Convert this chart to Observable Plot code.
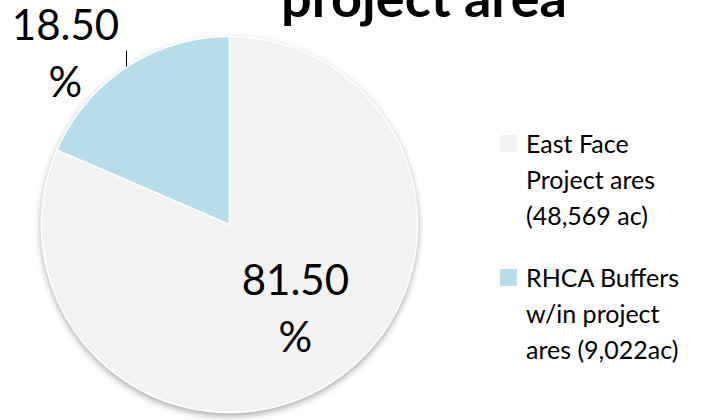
<!DOCTYPE html>
<html>
<head>
<meta charset="utf-8">
<script src="https://cdn.jsdelivr.net/npm/d3@7"></script>
<script src="https://cdn.jsdelivr.net/npm/@observablehq/plot@0.6"></script>
<style>
  html, body { margin: 0; padding: 0; background: #fff; overflow: hidden; }
  #wrap { position: relative; width: 712px; height: 420px; overflow: hidden; font-family: Lato, "Open Sans", sans-serif; }
  #wrap svg { position: absolute; left: 0; top: 0; }
  #wrap svg g[aria-label="line"] { filter: drop-shadow(0px 3px 3px rgba(0,0,0,0.32)); }
  #title { position: absolute; top: -30px; left: 0; width: 848px; text-align: center; font-weight: 700; font-size: 54px; line-height: 54px; color: #000; white-space: nowrap; }
  .lg-sw { position: absolute; width: 17px; height: 17px; }
  .lg-tx { position: absolute; font-size: 25px; line-height: 36px; color: #000; white-space: nowrap; }
</style>
</head>
<body>
<div id="wrap"></div>
<script>
// ---- data ----
const categories = ["East Face Project ares (48,569 ac)", "RHCA Buffers w/in project ares (9,022ac)"];
const legendLines = [["East Face", "Project ares", "(48,569 ac)"], ["RHCA Buffers", "w/in project", "ares (9,022ac)"]];
const shares = [81.5, 18.5];
const labelTexts = ["81.50\n%", "18.50\n%"];
const sliceColors = ["#F2F2F2", "#B7DDE8"];
const titleText = "project area";

// ---- geometry ----
const W = 712, H = 420, CX = 229, CY = 224, R = 188;
const arcs = d3.pie().sort(null).value(d => d)(shares);

const pts = [];
arcs.forEach((a, i) => {
  pts.push({k: i, x: 0, y: 0, c: sliceColors[i]});
  const n = Math.max(2, Math.ceil((a.endAngle - a.startAngle) / 0.01));
  for (let j = 0; j <= n; j++) {
    const t = a.startAngle + (a.endAngle - a.startAngle) * j / n;
    pts.push({k: i, x: Math.sin(t), y: Math.cos(t), c: sliceColors[i]});
  }
  pts.push({k: i, x: 0, y: 0, c: sliceColors[i]});
});

const labelRadius = [0.57, 1.26];
const labelOffset = [[7, -9], [-34, 23.5]];
const labels = arcs.map((a, i) => {
  const m = (a.startAngle + a.endAngle) / 2;
  return {x: Math.sin(m) * labelRadius[i], y: Math.cos(m) * labelRadius[i], t: labelTexts[i], dx: labelOffset[i][0], dy: labelOffset[i][1]};
});

// leader line from the outside label down to the blue slice's edge
const leaderX = (126 - CX) / R;
const leaderY2 = Math.sqrt(1 - leaderX * leaderX);
const leader = [{x: leaderX, y1: leaderY2 + 16 / R, y2: leaderY2}];

const plot = Plot.plot({
  width: W, height: H, margin: 0,
  x: {domain: [-CX / R, (W - CX) / R], axis: null},
  y: {domain: [-(H - CY) / R, CY / R], axis: null},
  color: {type: "identity"},
  marks: [
    Plot.line(pts, {x: "x", y: "y", z: "k", fill: "c", stroke: "#ffffff", strokeWidth: 1.5, curve: "linear"}),
    Plot.ruleX(leader, {x: "x", y1: "y1", y2: "y2", stroke: "#000", strokeWidth: 1}),
    ...labels.map(l => Plot.text([l], {x: "x", y: "y", text: "t", dx: l.dx, dy: l.dy, fontSize: 42, fontFamily: "Lato", fill: "#000", lineHeight: 1.357, textAnchor: "middle", lineAnchor: "middle"}))
  ]
});

const wrap = document.getElementById("wrap");
wrap.appendChild(plot);

const title = document.createElement("div");
title.id = "title";
title.textContent = titleText;
wrap.appendChild(title);

const legendTop = [125, 259];
legendLines.forEach((lines, i) => {
  const sw = document.createElement("div");
  sw.className = "lg-sw";
  sw.style.left = "500px";
  sw.style.top = (legendTop[i] + 10) + "px";
  sw.style.background = sliceColors[i];
  sw.title = categories[i];
  wrap.appendChild(sw);
  const tx = document.createElement("div");
  tx.className = "lg-tx";
  tx.style.left = "526px";
  tx.style.top = legendTop[i] + "px";
  tx.innerHTML = lines.join("<br>");
  wrap.appendChild(tx);
});
</script>
</body>
</html>
